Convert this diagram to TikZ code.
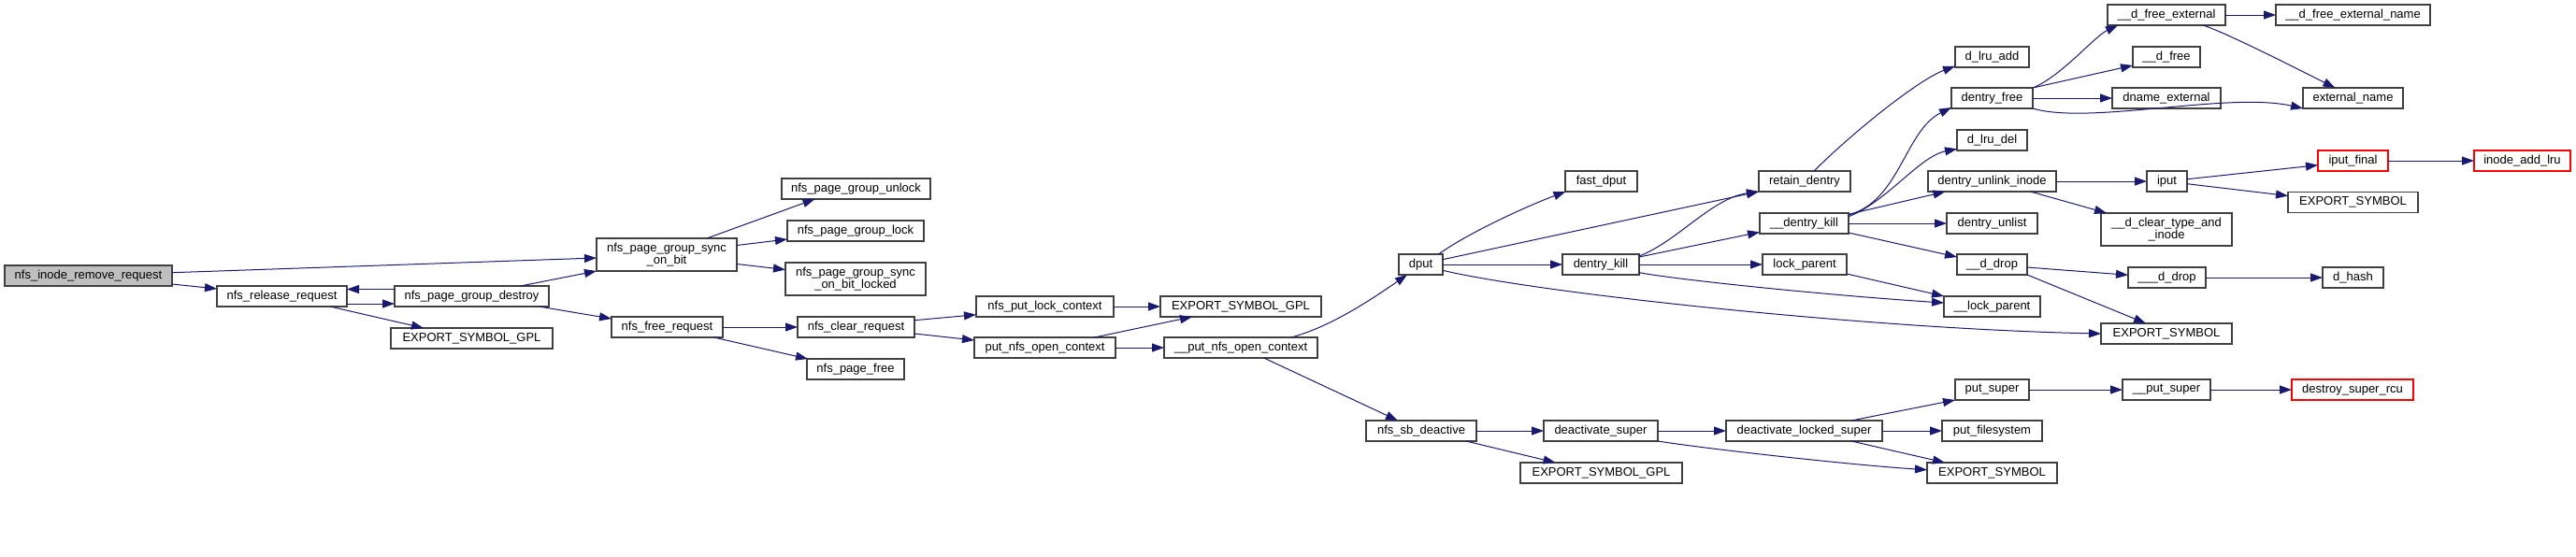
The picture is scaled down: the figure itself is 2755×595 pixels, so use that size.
\documentclass[tikz,border=0pt]{standalone}
\usepackage{fontspec}
\setmainfont{Liberation Sans}
\usetikzlibrary{arrows.meta,calc}
\definecolor{edgeblue}{HTML}{191970}
\definecolor{boxgray}{HTML}{404040}
\definecolor{rootfill}{HTML}{BFBFBF}
\tikzset{
 box/.style={draw=boxgray, line width=1.2pt, rectangle, inner sep=0pt, outer sep=0pt,
   font=\fontsize{13}{12.5}\selectfont, align=center, text=black, fill=white},
 rootbox/.style={fill=rootfill},
 redbox/.style={draw=red},
 edge/.style={draw=edgeblue, line width=1pt, -{Triangle[length=13pt,width=9pt]}},
}
\newcommand\gn[6][]{\node[box,#1,minimum width=#4pt,minimum height=#5pt] (#2) at (#3) {#6};}
\begin{document}
\begin{tikzpicture}[x=1pt,y=-1pt]
\useasboundingbox (0,0) rectangle (2755,595);
\gn[rootbox]{ninr}{94.5,295}{179}{22}{nfs\_inode\_remove\_request}
\gn{nrr}{301.5,317}{139}{22}{nfs\_release\_request}
\gn{npgd}{504.5,317}{165}{22}{nfs\_page\_group\_destroy}
\gn{esg1}{504.5,362}{173}{22}{EXPORT\_SYMBOL\_GPL}
\gn{sob}{713,272.5}{150}{35}{nfs\_page\_group\_sync\\\_on\_bit}
\gn{unl}{915.5,202}{159}{22}{nfs\_page\_group\_unlock}
\gn{lck}{915,247}{146}{22}{nfs\_page\_group\_lock}
\gn{sobl}{915,298.5}{150}{35}{nfs\_page\_group\_sync\\\_on\_bit\_locked}
\gn{nfr}{713.5,350}{119}{22}{nfs\_free\_request}
\gn{ncr}{915.5,350}{125}{22}{nfs\_clear\_request}
\gn{npf}{915,395}{104}{22}{nfs\_page\_free}
\gn{nplc}{1117.5,328}{147}{22}{nfs\_put\_lock\_context}
\gn{pnoc}{1117.5,372}{151}{22}{put\_nfs\_open\_context}
\gn{esg2}{1327,328}{172}{22}{EXPORT\_SYMBOL\_GPL}
\gn{upnoc}{1327,372}{164}{22}{\_\_put\_nfs\_open\_context}
\gn{dput}{1519.5,283}{47}{22}{dput}
\gn{fdput}{1712.5,194}{77}{22}{fast\_dput}
\gn{dk}{1712,283}{82}{22}{dentry\_kill}
\gn{nsd}{1520,461}{118}{22}{nfs\_sb\_deactive}
\gn{ds}{1712,461}{122}{22}{deactivate\_super}
\gn{esg3}{1712.5,506}{173}{22}{EXPORT\_SYMBOL\_GPL}
\gn{rd}{1930,194}{98}{22}{retain\_dentry}
\gn{udk}{1929.5,239}{95}{22}{\_\_dentry\_kill}
\gn{lp}{1930,283}{90}{22}{lock\_parent}
\gn{dla}{2130.5,61}{79}{22}{d\_lru\_add}
\gn{df}{2130.5,105}{87}{22}{dentry\_free}
\gn{dld}{2130.5,150}{75}{22}{d\_lru\_del}
\gn{dui}{2130.5,194}{137}{22}{dentry\_unlink\_inode}
\gn{dul}{2130.5,239}{97}{22}{dentry\_unlist}
\gn{udd}{2130.5,283}{75}{22}{\_\_d\_drop}
\gn{ulp}{2130.5,328}{103}{22}{\_\_lock\_parent}
\gn{es1}{2317,357}{140}{22}{EXPORT\_SYMBOL}
\gn{ps}{2130.5,417}{79}{22}{put\_super}
\gn{dls}{1929.5,461}{167}{22}{deactivate\_locked\_super}
\gn{pfs}{2130.5,461}{107}{22}{put\_filesystem}
\gn{es2}{2130.5,506}{139}{22}{EXPORT\_SYMBOL}
\gn{udfe}{2317,16}{126}{22}{\_\_d\_free\_external}
\gn{udfen}{2516.5,16}{165}{22}{\_\_d\_free\_external\_name}
\gn{udf}{2317,61}{72}{22}{\_\_d\_free}
\gn{dne}{2317,105}{116}{22}{dname\_external}
\gn{en}{2516.5,105}{107}{22}{external\_name}
\gn[redbox]{ipf}{2516.5,172}{75}{22}{iput\_final}
\gn[redbox]{ial}{2697.5,172}{103}{22}{inode\_add\_lru}
\gn{iput}{2317.5,194}{43}{22}{iput}
\gn{es3}{2516.5,216.5}{139}{22}{EXPORT\_SYMBOL}
\gn{udct}{2317,245.5}{140}{35}{\_\_d\_clear\_type\_and\\\_inode}
\gn{uudd}{2317.5,297}{83}{22}{\_\_\_d\_drop}
\gn{dh}{2516.5,297}{65}{22}{d\_hash}
\gn{ups}{2317,417}{94}{22}{\_\_put\_super}
\gn[redbox]{dsr}{2516,417}{130}{22}{destroy\_super\_rcu}

\draw[edge] ($(ninr.east)+(0,-3.3)$) -- ($(sob.west)+(0,3.5)$);
\draw[edge] ($(ninr.east)+(0,9)$) -- ($(nrr.west)+(0,-8)$);
\draw[edge] ($(nrr.east)+(0,8)$) -- ($(npgd.west)+(0,8)$);
\draw[edge] ($(npgd.west)+(0,-7.5)$) -- ($(nrr.east)+(0,-7.5)$);
\draw[edge] ($(nrr.south)+(51.5,0)$) -- ($(esg1.north)+(-51.5,0)$);
\draw[edge] ($(npgd.north)+(52,0)$) -- (sob.south west);
\draw[edge] ($(npgd.south)+(72,0)$) -- ($(nfr.west)+(0,-9)$);
\draw[edge] ($(sob.north)+(43,0)$) -- ($(unl.south)+(-44,0)$);
\draw[edge] ($(sob.east)+(0,-10)$) -- ($(lck.west)+(0,9)$);
\draw[edge] ($(sob.east)+(0,10)$) -- ($(sobl.west)+(0,-10)$);
\draw[edge] (nfr.east) -- (ncr.west);
\draw[edge] ($(nfr.south)+(50,0)$) -- ($(npf.north)+(-51,0)$);
\draw[edge] ($(ncr.east)+(0,-7.3)$) -- ($(nplc.west)+(0,8.7)$);
\draw[edge] ($(ncr.east)+(0,7)$) -- ($(pnoc.west)+(0,-8)$);
\draw[edge] (nplc.east) -- (esg2.west);
\draw[edge] ($(pnoc.north)+(53,0)$) -- ($(esg2.south)+(-52,0)$);
\draw[edge] (pnoc.east) -- (upnoc.west);
\draw[edge] ($(upnoc.north)+(54,0)$) .. controls +(40,-11) and +(-45,31) .. ($(dput.south)+(-14.5,0)$);
\draw[edge] ($(upnoc.south)+(24.7,0)$) -- ($(nsd.north)+(-25,0)$);
\draw[edge] ($(dput.north)+(19,0)$) .. controls +(35,-25) and +(-35,13) .. ($(fdput.south west)+(0.5,0)$);
\draw[edge] ($(dput.east)+(0,-5.3)$) -- (rd.south west);
\draw[edge] (dput.east) -- (dk.west);
\draw[edge] ($(dput.east)+(0,6.3)$) .. controls +(100,24) and +(-247,-5) .. (es1.west);
\draw[edge] ($(dk.east)+(0,-9)$) .. controls +(40,-15) and +(-50,7) .. (rd.south west);
\draw[edge] ($(dk.east)+(0,-8)$) -- ($(udk.west)+(0,9.3)$);
\draw[edge] (dk.east) -- (lp.west);
\draw[edge] ($(dk.east)+(0,8.7)$) .. controls +(50,9) and +(-110,-7) .. ($(ulp.west)+(0,-4)$);
\draw[edge] ($(rd.north)+(10,0)$) .. controls +(40,-40) and +(-40,15) .. ($(dla.west)+(0,9.7)$);
\draw[edge] ($(udk.east)+(0,-9)$) .. controls +(55,-15) and +(-50,25) .. ($(df.west)+(0,10)$);
\draw[edge] ($(udk.east)+(0,-7.3)$) .. controls +(40,-15) and +(-40,8) .. ($(dld.west)+(0,9.3)$);
\draw[edge] ($(udk.east)+(0,-9.7)$) -- ($(dui.south)+(-50,0)$);
\draw[edge] (udk.east) -- (dul.west);
\draw[edge] ($(udk.east)+(0,10)$) -- ($(udd.west)+(0,-8)$);
\draw[edge] ($(lp.east)+(0,10)$) -- (ulp.north west);
\draw[edge] (df.north east) .. controls +(30,-12) and +(-25,12) .. ($(udfe.south)+(-52,0)$);
\draw[edge] (df.north east) -- ($(udf.west)+(0,9)$);
\draw[edge] (df.east) -- (dne.west);
\draw[edge] (df.south east) .. controls +(60,18) and +(-80,-18) .. (en.south west);
\draw[edge] (udfe.east) -- (udfen.west);
\draw[edge] ($(udfe.south)+(39,0)$) .. controls +(25,8) and +(-40,-20) .. ($(en.north)+(-19,0)$);
\draw[edge] (dui.east) -- (iput.west);
\draw[edge] ($(dui.south)+(41,0)$) -- ($(udct.north)+(-64,0)$);
\draw[edge] ($(iput.east)+(0,-2.3)$) -- ($(ipf.west)+(0,4.7)$);
\draw[edge] ($(iput.east)+(0,2.7)$) -- ($(es3.west)+(0,-7)$);
\draw[edge] (ipf.east) -- (ial.west);
\draw[edge] ($(udd.east)+(0,3)$) -- ($(uudd.west)+(0,-2.7)$);
\draw[edge] (udd.south east) -- ($(es1.north)+(-22,0)$);
\draw[edge] (uudd.east) -- (dh.west);
\draw[edge] (nsd.east) -- (ds.west);
\draw[edge] ($(nsd.south)+(48,0)$) -- ($(esg3.north)+(-49,0)$);
\draw[edge] (ds.east) -- (dls.west);
\draw[edge] (ds.south east) .. controls +(50,8) and +(-80,-5) .. ($(es2.west)+(0,-3.3)$);
\draw[edge] ($(dls.north)+(50.5,0)$) -- (ps.south west);
\draw[edge] (dls.east) -- (pfs.west);
\draw[edge] ($(dls.south)+(50.5,0)$) -- ($(es2.north)+(-50.5,0)$);
\draw[edge] (ps.east) -- (ups.west);
\draw[edge] (ups.east) -- (dsr.west);
\end{tikzpicture}
\end{document}
